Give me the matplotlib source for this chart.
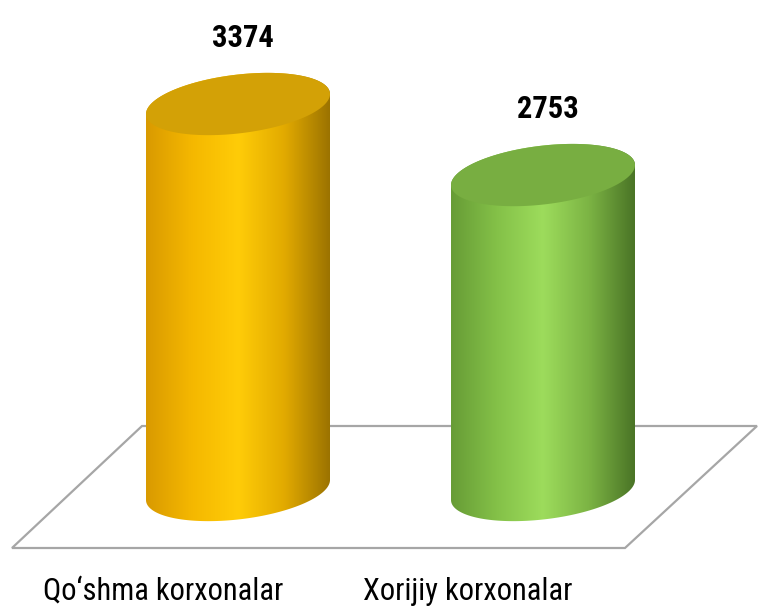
import numpy as np
import matplotlib
matplotlib.use("Agg")
import matplotlib.pyplot as plt
from matplotlib.colors import LinearSegmentedColormap
from matplotlib.patches import Polygon

# data
categories = ["Qo\u2018shma korxonalar", "Xorijiy korxonalar"]
values = [3374, 2753]
side_colors = [
    ["#d99a00", "#f5b800", "#ffcc08", "#e2aa00", "#9a7200"],
    ["#679c36", "#84c148", "#9ddc5c", "#7cb444", "#4a7426"],
]
top_colors = ["#d3a106", "#78ae41"]
FONT = ["Roboto Condensed", "Archivo Narrow", "DejaVu Sans"]

W, H = 763, 606
fig = plt.figure(figsize=(W / 100, H / 100), dpi=100)
ax = fig.add_axes([0, 0, 1, 1])
ax.axis("off")

# scale: pixels per unit
PX_X = 305.0     # px per category step
PX_Y = 0.1144    # px per value unit
X0 = 238.0       # px of first category
Y0 = 490.0       # px (from top) of value 0
ax.set_xlim(-X0 / PX_X, (W - X0) / PX_X)
ax.set_ylim(-(H - Y0) / PX_Y, Y0 / PX_Y)


def to_data(px, py):
    return (px - X0) / PX_X, (Y0 - py) / PX_Y


# floor (parallelogram)
floor_px = [(12, 548), (625, 548), (757, 426), (142, 426)]
floor = [to_data(*p) for p in floor_px]
ax.add_patch(Polygon(floor, closed=True, fill=False, ec="#a6a6a6", lw=1.6, zorder=1))

# cylinder geometry in pixels
A = 92.0   # half width
B = 29.5   # half minor
S = 10.0   # shear (right side higher)
TOP = np.hypot(B, S)


def ellipse(xc, yc, t):
    x = xc + A * np.cos(t) / PX_X
    y = yc + (B * np.sin(t) + S * np.cos(t)) / PX_Y
    return x, y


for i, v in enumerate(values):
    t_low = np.linspace(np.pi, 2 * np.pi, 100)
    t_up = np.linspace(0, np.pi, 100)
    bx, by = ellipse(i, 0, t_low)
    tx, ty = ellipse(i, v, t_up)
    body = np.column_stack([np.concatenate([bx, tx]), np.concatenate([by, ty])])
    patch = Polygon(body, closed=True, fc="none", ec="none", zorder=2)
    ax.add_patch(patch)
    cmap = LinearSegmentedColormap.from_list("c%d" % i, side_colors[i])
    grad = np.linspace(0, 1, 256).reshape(1, -1)
    im = ax.imshow(grad, cmap=cmap, aspect="auto", zorder=2,
                   extent=[i - A / PX_X, i + A / PX_X, by.min() - 10, ty.max() + 10])
    im.set_clip_path(patch)
    t = np.linspace(0, 2 * np.pi, 200)
    ex, ey = ellipse(i, v, t)
    ax.fill(ex, ey, color=top_colors[i], zorder=3, lw=0)
    # value label (offset given in pixels -> points)
    ax.annotate(str(v), xy=(i, v + TOP / PX_Y), xytext=(5 * 0.72, 26 * 0.72),
                textcoords="offset points", ha="center", va="baseline",
                fontsize=22, fontweight="bold", family=FONT)

# category labels
for i, c in enumerate(categories):
    x, y = to_data(X0 + i * PX_X - 75, 600)
    ax.text(x, y, c, ha="center", va="baseline", fontsize=22,
            color="#000000", family=FONT)

fig.savefig("out.png", dpi=100, facecolor="white")
